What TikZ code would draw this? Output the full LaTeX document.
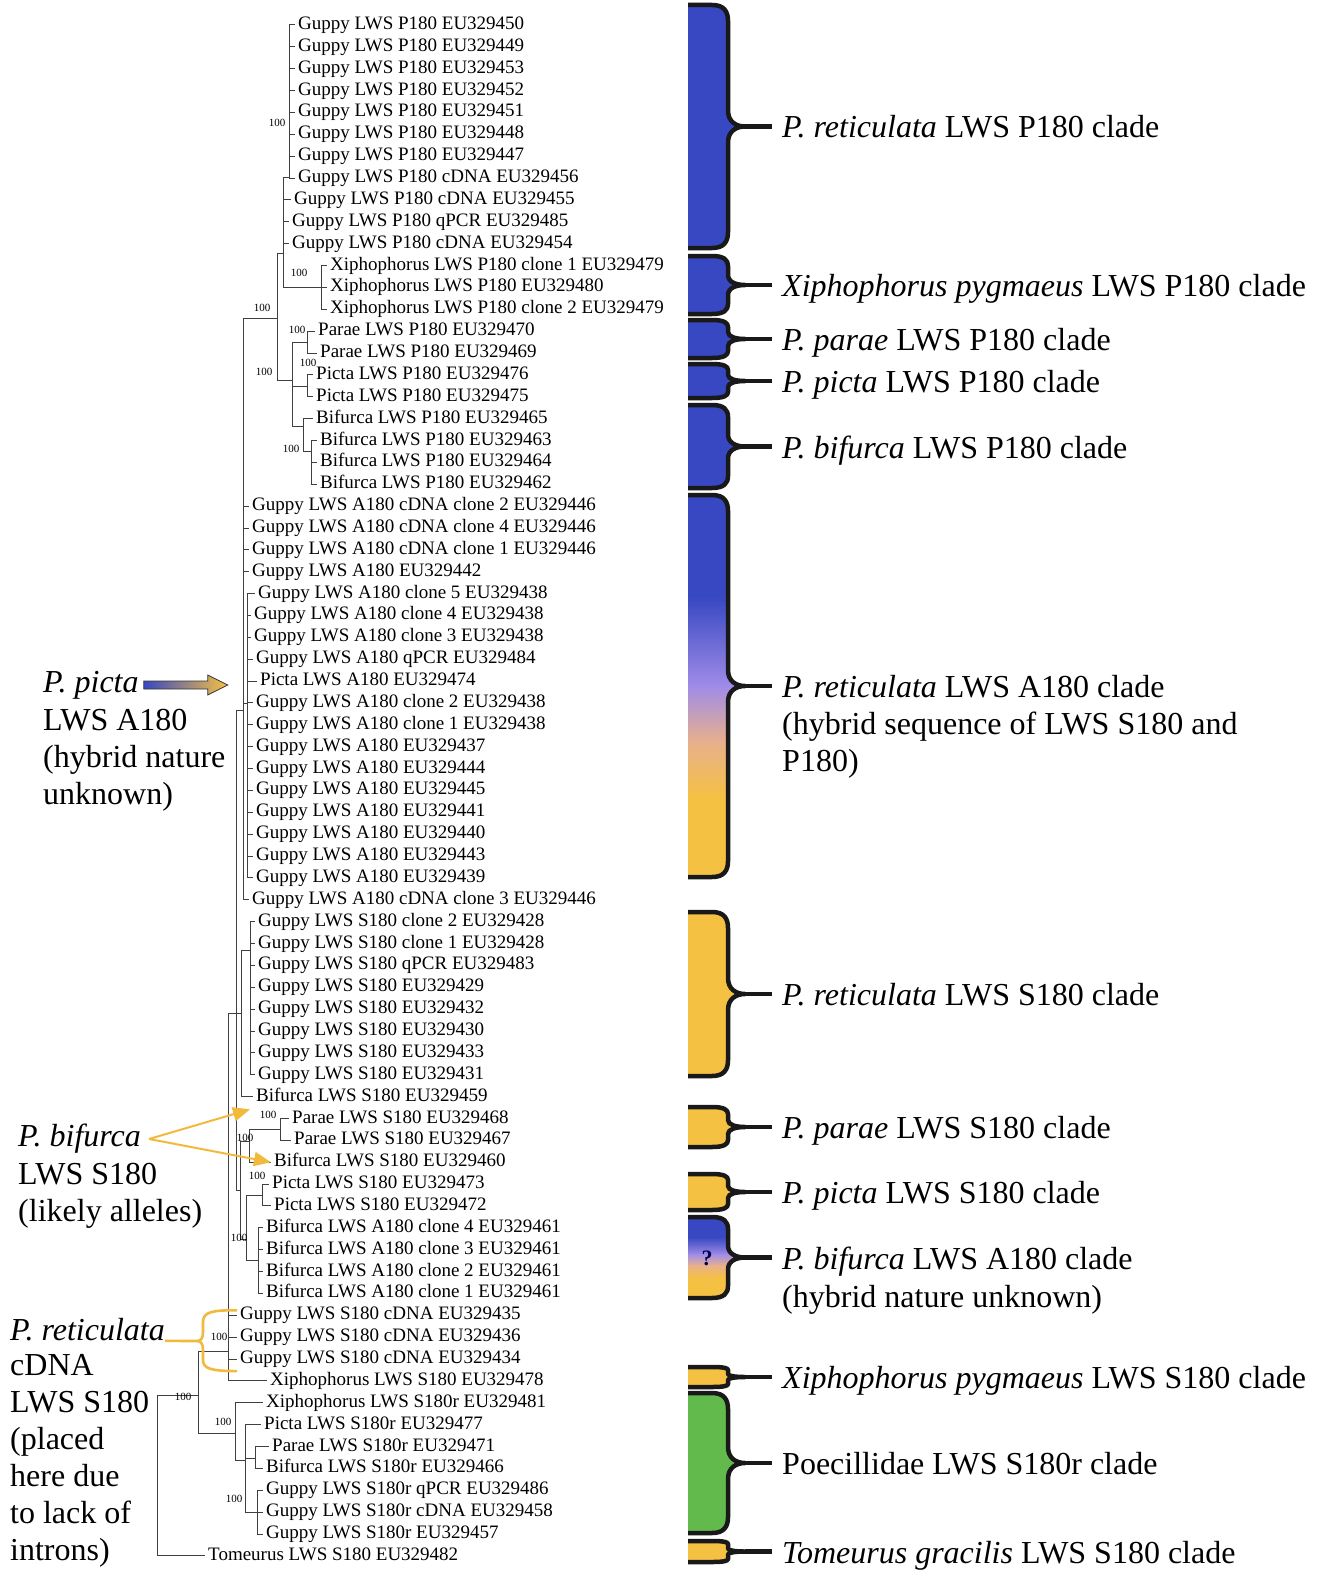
\documentclass[tikz,border=0pt]{standalone}
\usepackage{fontspec}
\setmainfont{Liberation Serif}
\usetikzlibrary{arrows.meta}
\definecolor{cladeblue}{RGB}{55,72,194}
\definecolor{cladeyellow}{RGB}{245,193,66}
\definecolor{cladegreen}{RGB}{98,186,76}
\definecolor{cladelav}{RGB}{160,140,232}
\definecolor{cladepeach}{RGB}{232,176,140}
\definecolor{arrowyellow}{RGB}{242,186,60}
% brace-shaped clade bar: top, bottom, corner radius
\newcommand{\bracepath}[3]{(688,#1) -- (712,#1) .. controls (724,#1) and (728,{#1+0.4*#3}) .. (728,{#1+#3}) -- (728,{(#1+#2)/2-#3}) .. controls (728,{(#1+#2)/2-0.3*#3}) and (736,{(#1+#2)/2}) .. (745,{(#1+#2)/2}) .. controls (736,{(#1+#2)/2}) and (728,{(#1+#2)/2+0.3*#3}) .. (728,{(#1+#2)/2+#3}) -- (728,{#2-#3}) .. controls (728,{#2-0.4*#3}) and (724,#2) .. (712,#2) -- (688,#2)}
\tikzset{
  branch/.style={draw=black!75, line width=1pt},
  leaf/.style={anchor=west, inner xsep=3pt, inner ysep=0pt, font=\fontsize{19}{21}\selectfont, text height=13pt, text depth=4pt},
  boot/.style={font=\fontsize{11}{11}\selectfont, inner sep=0pt},
  bracestroke/.style={draw=black!90, line width=4.5pt, line join=round},
  cladelab/.style={anchor=west, inner xsep=10pt, inner ysep=0pt, font=\fontsize{32}{37}\selectfont, text height=30pt, text depth=7pt},
  annot/.style={anchor=west, inner sep=0pt, font=\fontsize{32}{37}\selectfont},
  annotblock/.style={anchor=north west, inner sep=0pt, align=left, font=\fontsize{32}{37}\selectfont},
  yarrow/.style={draw=arrowyellow, line width=2pt, -{Triangle[length=17pt,width=14pt]}},
  ybrace/.style={draw=arrowyellow, line width=2.6pt, line join=round},
}
\begin{document}
\begin{tikzpicture}[x=1pt, y=-1pt]
\useasboundingbox (0,0) rectangle (1318,1573);
\fill[white] (0,0) rectangle (1318,1573);

% clade bars
\foreach \ytop/\ybot/\rad/\col in {5/248/16/cladeblue, 256/314/10/cladeblue, 320/358/7/cladeblue, 364/398/6/cladeblue, 405/488/12/cladeblue, 912/1076/16/cladeyellow, 1107/1147/7/cladeyellow, 1174/1210/6/cladeyellow, 1367/1387/3/cladeyellow, 1393/1533/16/cladegreen, 1541/1562/3/cladeyellow}
  \fill[\col] \bracepath{\ytop}{\ybot}{\rad} -- cycle;
\begin{scope}
\clip \bracepath{495}{877}{16} -- cycle;
\fill[cladeblue] (680,490) rectangle (760,598);
\shade[top color=cladeblue, bottom color=cladelav] (680,597) rectangle (760,687);
\shade[top color=cladelav, bottom color=cladepeach] (680,686) rectangle (760,743);
\shade[top color=cladepeach, bottom color=cladeyellow] (680,742) rectangle (760,798);
\fill[cladeyellow] (680,797) rectangle (760,880);
\end{scope}
\begin{scope}
\clip \bracepath{1217}{1298}{12} -- cycle;
\fill[cladeblue] (680,1210) rectangle (760,1238);
\shade[top color=cladeblue, bottom color=cladelav] (680,1237) rectangle (760,1255);
\shade[top color=cladelav, bottom color=cladepeach] (680,1254) rectangle (760,1266);
\shade[top color=cladepeach, bottom color=cladeyellow] (680,1265) rectangle (760,1278);
\fill[cladeyellow] (680,1277) rectangle (760,1305);
\end{scope}
\node[font=\fontsize{22}{22}\selectfont\bfseries, text=black!70!blue] (qm) at (707,1258) {?};
\foreach \n/\ytop/\ybot/\rad in {1/5/248/16, 2/256/314/10, 3/320/358/7, 4/364/398/6, 5/405/488/12, 6/495/877/16, 7/912/1076/16, 8/1107/1147/7, 9/1174/1210/6, 10/1217/1298/12, 11/1367/1387/3, 12/1393/1533/16, 13/1541/1562/3}{
  \draw[bracestroke] \bracepath{\ytop}{\ybot}{\rad};
  \coordinate (tip\n) at (745,{(\ytop+\ybot)/2});
}

% clade labels
\node[cladelab] (c1) at ([xshift=27pt]tip1) {\textit{P. reticulata} LWS P180 clade};
\node[cladelab] (c2) at ([xshift=27pt]tip2) {\textit{Xiphophorus pygmaeus} LWS P180 clade};
\node[cladelab] (c3) at ([xshift=27pt]tip3) {\textit{P. parae} LWS P180 clade};
\node[cladelab] (c4) at ([xshift=27pt]tip4) {\textit{P. picta} LWS P180 clade};
\node[cladelab] (c5) at ([xshift=27pt]tip5) {\textit{P. bifurca} LWS P180 clade};
\node[cladelab] (c6) at ([xshift=27pt]tip6) {\textit{P. reticulata} LWS A180 clade};
\node[cladelab] (c6b) at ([yshift=-37pt]c6.west) {(hybrid sequence of LWS S180 and};
\node[cladelab] (c6c) at ([yshift=-37pt]c6b.west) {P180)};
\node[cladelab] (c7) at ([xshift=27pt]tip7) {\textit{P. reticulata} LWS S180 clade};
\node[cladelab] (c8) at ([xshift=27pt]tip8) {\textit{P. parae} LWS S180 clade};
\node[cladelab] (c9) at ([xshift=27pt]tip9) {\textit{P. picta} LWS S180 clade};
\node[cladelab] (c10) at ([xshift=27pt]tip10) {\textit{P. bifurca} LWS A180 clade};
\node[cladelab] (c10b) at ([yshift=-38pt]c10.west) {(hybrid nature unknown)};
\node[cladelab] (c11) at ([xshift=27pt]tip11) {\textit{Xiphophorus pygmaeus} LWS S180 clade};
\node[cladelab] (c12) at ([xshift=27pt]tip12) {Poecillidae LWS S180r clade};
\node[cladelab] (c13) at ([xshift=27pt]tip13) {\textit{Tomeurus gracilis} LWS S180 clade};
\foreach \n in {1,...,13}
  \draw[bracestroke] (tip\n) -- (c\n.west);

% leaves
\foreach \i/\lx/\txt in {1/298/Guppy LWS P180 EU329450, 2/298/Guppy LWS P180 EU329449, 3/298/Guppy LWS P180 EU329453, 4/298/Guppy LWS P180 EU329452, 5/298/Guppy LWS P180 EU329451, 6/298/Guppy LWS P180 EU329448, 7/298/Guppy LWS P180 EU329447, 8/298/Guppy LWS P180 cDNA EU329456, 9/294/Guppy LWS P180 cDNA EU329455, 10/292/Guppy LWS P180 qPCR EU329485, 11/292/Guppy LWS P180 cDNA EU329454, 12/330/Xiphophorus LWS P180 clone 1 EU329479, 13/330/Xiphophorus LWS P180 EU329480, 14/330/Xiphophorus LWS P180 clone 2 EU329479, 15/318/Parae LWS P180 EU329470, 16/320/Parae LWS P180 EU329469, 17/316/Picta LWS P180 EU329476, 18/316/Picta LWS P180 EU329475, 19/316/Bifurca LWS P180 EU329465, 20/320/Bifurca LWS P180 EU329463, 21/320/Bifurca LWS P180 EU329464, 22/320/Bifurca LWS P180 EU329462, 23/252/Guppy LWS A180 cDNA clone 2 EU329446, 24/252/Guppy LWS A180 cDNA clone 4 EU329446, 25/252/Guppy LWS A180 cDNA clone 1 EU329446, 26/252/Guppy LWS A180 EU329442, 27/258/Guppy LWS A180 clone 5 EU329438, 28/254/Guppy LWS A180 clone 4 EU329438, 29/254/Guppy LWS A180 clone 3 EU329438, 30/256/Guppy LWS A180 qPCR EU329484, 31/260/Picta LWS A180 EU329474, 32/256/Guppy LWS A180 clone 2 EU329438, 33/256/Guppy LWS A180 clone 1 EU329438, 34/256/Guppy LWS A180 EU329437, 35/256/Guppy LWS A180 EU329444, 36/256/Guppy LWS A180 EU329445, 37/256/Guppy LWS A180 EU329441, 38/256/Guppy LWS A180 EU329440, 39/256/Guppy LWS A180 EU329443, 40/256/Guppy LWS A180 EU329439, 41/252/Guppy LWS A180 cDNA clone 3 EU329446, 42/258/Guppy LWS S180 clone 2 EU329428, 43/258/Guppy LWS S180 clone 1 EU329428, 44/258/Guppy LWS S180 qPCR EU329483, 45/258/Guppy LWS S180 EU329429, 46/258/Guppy LWS S180 EU329432, 47/258/Guppy LWS S180 EU329430, 48/258/Guppy LWS S180 EU329433, 49/258/Guppy LWS S180 EU329431, 50/256/Bifurca LWS S180 EU329459, 51/292/Parae LWS S180 EU329468, 52/294/Parae LWS S180 EU329467, 53/274/Bifurca LWS S180 EU329460, 54/272/Picta LWS S180 EU329473, 55/274/Picta LWS S180 EU329472, 56/266/Bifurca LWS A180 clone 4 EU329461, 57/266/Bifurca LWS A180 clone 3 EU329461, 58/266/Bifurca LWS A180 clone 2 EU329461, 59/266/Bifurca LWS A180 clone 1 EU329461, 60/240/Guppy LWS S180 cDNA EU329435, 61/240/Guppy LWS S180 cDNA EU329436, 62/240/Guppy LWS S180 cDNA EU329434, 63/270/Xiphophorus LWS S180 EU329478, 64/266/Xiphophorus LWS S180r EU329481, 65/264/Picta LWS S180r EU329477, 66/272/Parae LWS S180r EU329471, 67/266/Bifurca LWS S180r EU329466, 68/266/Guppy LWS S180r qPCR EU329486, 69/266/Guppy LWS S180r cDNA EU329458, 70/266/Guppy LWS S180r EU329457, 71/208/Tomeurus LWS S180 EU329482}
  \node[leaf] (l\i) at ({\lx-3},{25+(\i-1)*21.87}) {\txt};

% internal nodes of the tree
\coordinate (R) at (157,1395);
\coordinate (B) at (198,1395);
\coordinate (C) at (228,1351);
\coordinate (D) at (235,1433);
\coordinate (E) at (245,1460);
\coordinate (F) at (255,1458);
\coordinate (G) at (257,1512.4);
\coordinate (Z) at (236,1013);
\coordinate (S) at (241,1013);
\coordinate (S1) at (250,950);
\coordinate (K) at (240,1190);
\coordinate (K1) at (249,1141);
\coordinate (PS) at (280,1129.5);
\coordinate (K2) at (246,1239);
\coordinate (PiS) at (262,1195.2);
\coordinate (BA) at (258,1260.8);
\coordinate (T) at (243,710);
\coordinate (A1) at (247,703);
\coordinate (Q) at (277,318);
\coordinate (X) at (283,253);
\coordinate (GP) at (289,178);
\coordinate (XP) at (321,287.5);
\coordinate (P) at (292,380);
\coordinate (PP) at (307,342);
\coordinate (PI) at (307,386);
\coordinate (BF) at (303,426);
\coordinate (BF2) at (311,451);

\foreach \p/\c in {R/B, R/l71, B/C, B/D, C/Z, C/l60, C/l61, C/l62, C/l63, D/l64, D/E, E/l65, E/F, E/G, F/l66, F/l67, G/l68, G/l69, G/l70, Z/T, Z/S, Z/K, S/S1, S/l50, K/K1, K/K2, K1/PS, K1/l53, PS/l51, PS/l52, K2/PiS, K2/BA, PiS/l54, PiS/l55, BA/l56, BA/l57, BA/l58, BA/l59, T/Q, T/l23, T/l24, T/l25, T/l26, T/A1, T/l41, Q/X, Q/P, X/GP, X/l9, X/l10, X/l11, X/XP, XP/l12, XP/l13, XP/l14, P/PP, P/PI, P/BF, PP/l15, PP/l16, PI/l17, PI/l18, BF/l19, BF/BF2, BF2/l20, BF2/l21, BF2/l22}
  \draw[branch] (\p) |- (\c);
\foreach \i in {1,...,8} \draw[branch] (GP) |- (l\i);
\foreach \i in {27,...,40} \draw[branch] (A1) |- (l\i);
\foreach \i in {42,...,49} \draw[branch] (S1) |- (l\i);

% bootstrap values
\foreach \bx/\by [count=\k] in {277/123, 299/273, 262/308, 297/330, 308/363, 264/372, 291/449, 268/1115, 245/1138, 257/1176, 239/1238, 219/1337, 183/1397, 223/1422, 234/1499}
  \node[boot] (bs\k) at (\bx,\by) {100};

% notes on the left
\node[annot] (pp) at (43,685) {\textit{P. picta}};
\node[annotblock] (pp2) at (43,709) {LWS A180\\(hybrid nature\\unknown)};
\shade[left color=cladeblue, right color=cladeyellow, draw=black!80, line width=0.8pt, shift={(pp.east)}]
  (5,-4) -- (69,-4) -- (69,-10) -- (89,0) -- (69,10) -- (69,4) -- (5,4) -- cycle;

\node[annot] (pb) at (18,1139) {\textit{P. bifurca}};
\node[annotblock] (pb2) at (18,1163) {LWS S180\\(likely alleles)};
\draw[yarrow] ([xshift=8pt]pb.east) -- ([shift={(-3pt,-4pt)}]l50.south west);
\draw[yarrow] ([xshift=8pt]pb.east) -- (l53.west);

\node[annot] (pr) at (10,1330) {\textit{P. reticulata}};
\node[annotblock] (pr2) at (10,1354) {cDNA\\LWS S180\\(placed\\here due\\to lack of\\introns)};
\coordinate (cusp) at (197,1341);
\draw[ybrace] (pr.base east) -- (cusp);
\draw[ybrace] ([yshift=5pt]l60.west) .. controls (212,1310) and (203,1312) .. (203,1322) -- (203,1332)
  .. controls (203,1338) and (201,1341) .. (cusp) .. controls (201,1341) and (203,1344) .. (203,1350)
  -- (203,1360) .. controls (203,1369) and (212,1371) .. ([yshift=-12pt]l62.west);
\end{tikzpicture}
\end{document}
